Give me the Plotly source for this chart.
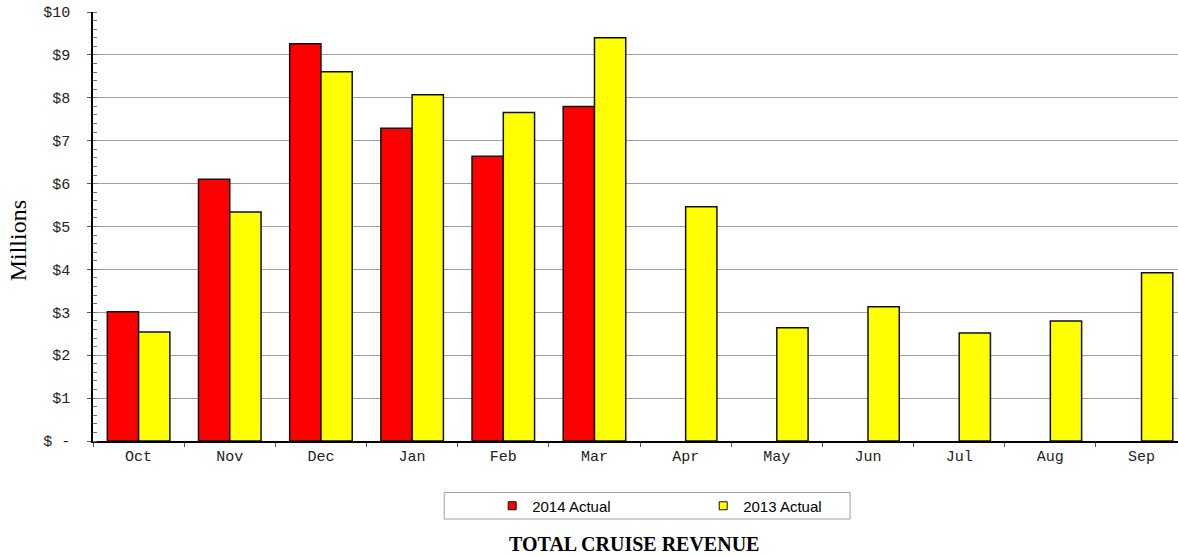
import plotly.graph_objects as go

months = ["Oct", "Nov", "Dec", "Jan", "Feb", "Mar", "Apr", "May", "Jun", "Jul", "Aug", "Sep"]
actual_2014 = [3.01, 6.10, 9.26, 7.29, 6.64, 7.80, None, None, None, None, None, None]
actual_2013 = [2.54, 5.34, 8.61, 8.07, 7.66, 9.40, 5.46, 2.64, 3.13, 2.52, 2.80, 3.92]
ytick_vals = [0, 1, 2, 3, 4, 5, 6, 7, 8, 9, 10]
ytick_text = ["$ -", "$1", "$2", "$3", "$4", "$5", "$6", "$7", "$8", "$9", "$10"]

W, H = 1178, 556
L, R, T, B = 92.7, 0, 12, 115
pw = W - L - R
ph = H - T - B

def px_x(x):
    return (x - L) / pw

def px_y(y):
    return (H - B - y) / ph

fig = go.Figure()
fig.add_trace(go.Bar(x=months, y=actual_2014, name="2014 Actual", showlegend=False,
                     marker=dict(color="#FF0000", line=dict(color="#111111", width=1.5))))
fig.add_trace(go.Bar(x=months, y=actual_2013, name="2013 Actual", showlegend=False,
                     marker=dict(color="#FFFF00", line=dict(color="#111111", width=1.5))))
# legend entries
for name, col in [("2014 Actual", "#FF0000"), ("2013 Actual", "#FFFF00")]:
    fig.add_trace(go.Scatter(x=[None], y=[None], mode="markers", name=name,
                             marker=dict(symbol="square", size=8, color=col,
                                         line=dict(color="#111111", width=1))))

fig.update_layout(
    width=W, height=H,
    margin=dict(l=L, r=R, t=T, b=B, autoexpand=False),
    paper_bgcolor="white", plot_bgcolor="white",
    barmode="group", bargap=0.314, bargroupgap=0,
    showlegend=True,
    legend=dict(orientation="h", x=px_x(492), xanchor="left", y=px_y(506), yanchor="middle",
                font=dict(family="Liberation Sans, Arial", size=15, color="black"),
                bgcolor="rgba(0,0,0,0)", borderwidth=0,
                entrywidth=166, entrywidthmode="pixels"),
    xaxis=dict(range=[-0.5, 11.4], tickson="boundaries", ticks="outside", ticklen=4,
               tickcolor="#555555", showline=True, linecolor="black", linewidth=1.5,
               showgrid=False, tickfont=dict(family="Liberation Mono, Courier New", size=15, color="#222"),
               fixedrange=True),
    yaxis=dict(range=[0, 10], tickvals=ytick_vals, ticktext=ytick_text, ticks="outside",
               ticklen=4, tickcolor="#555555", showline=True, linecolor="black", linewidth=1.5,
               showgrid=True, gridcolor="#A0A0A0", gridwidth=1, zeroline=False,
               ticklabelstandoff=14,
               tickfont=dict(family="Liberation Mono, Courier New", size=15, color="#222"),
               minor=dict(dtick=0.2, ticks="inside", ticklen=4, tickcolor="#777777", showgrid=False),
               fixedrange=True),
    shapes=[dict(type="rect", xref="paper", yref="paper",
                 x0=px_x(444), x1=px_x(850), y0=px_y(492.5), y1=px_y(519),
                 line=dict(color="#A0A0A0", width=1), fillcolor="rgba(0,0,0,0)")],
    annotations=[
        dict(text="Millions", xref="paper", yref="paper", x=px_x(18), y=px_y(241),
             xanchor="center", yanchor="middle", textangle=-90, showarrow=False,
             font=dict(family="Liberation Serif, Times New Roman", size=24, color="black")),
        dict(text="<b>TOTAL CRUISE REVENUE</b>", xref="paper", yref="paper", x=px_x(634), y=px_y(544),
             xanchor="center", yanchor="middle", showarrow=False,
             font=dict(family="Liberation Serif, Times New Roman", size=20, color="black")),
    ],
)

fig.write_html("out.html", config={"displayModeBar": False},
               post_script="document.body.style.margin='0';document.body.style.overflow='hidden';")
